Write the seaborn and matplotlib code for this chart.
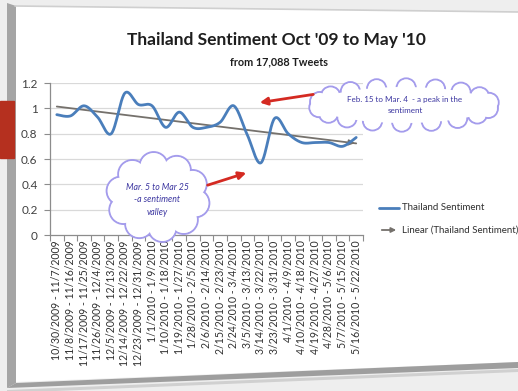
import numpy as np
import pandas as pd
import matplotlib
matplotlib.use("Agg")
import matplotlib.pyplot as plt
import seaborn as sns
from matplotlib.patches import Polygon, Circle, Ellipse, Rectangle

# Weekly (9-day) periods and the average tweet sentiment for each
periods = [
    "10/30/2009 - 11/7/2009", "11/8/2009 - 11/16/2009", "11/17/2009 - 11/25/2009",
    "11/26/2009 - 12/4/2009", "12/5/2009 - 12/13/2009", "12/14/2009 - 12/22/2009",
    "12/23/2009 - 12/31/2009", "1/1/2010 - 1/9/2010", "1/10/2010 - 1/18/2010",
    "1/19/2010 - 1/27/2010", "1/28/2010 - 2/5/2010", "2/6/2010 - 2/14/2010",
    "2/15/2010 - 2/23/2010", "2/24/2010 - 3/4/2010", "3/5/2010 - 3/13/2010",
    "3/14/2010 - 3/22/2010", "3/23/2010 - 3/31/2010", "4/1/2010 - 4/9/2010",
    "4/10/2010 - 4/18/2010", "4/19/2010 - 4/27/2010", "4/28/2010 - 5/6/2010",
    "5/7/2010 - 5/15/2010", "5/16/2010 - 5/22/2010",
]
sentiment = [0.95, 0.94, 1.02, 0.93, 0.80, 1.12, 1.03, 1.02, 0.85, 0.97, 0.85, 0.85,
             0.89, 1.02, 0.79, 0.57, 0.92, 0.80, 0.73, 0.73, 0.73, 0.70, 0.77]
y_ticks = [0, 0.2, 0.4, 0.6, 0.8, 1.0, 1.2]
y_tick_labels = ["0", "0.2", "0.4", "0.6", "0.8", "1", "1.2"]

title = "Thailand Sentiment Oct '09 to May '10"
subtitle = "from 17,088 Tweets"
series_name = "Thailand Sentiment"
trend_name = "Linear (Thailand Sentiment)"
note_peak = "Feb. 15 to Mar. 4  - a peak in the\nsentiment"
note_valley = "Mar. 5 to Mar 25\n-a sentiment\nvalley"

sns.set_theme(style="white")
plt.rcParams["font.family"] = ["Lato", "DejaVu Sans"]

BLUE = "#4a7ebb"
TREND = "#75716c"
GRID = "#d9d9d9"
AXIS = "#8c8c8c"
RED = "#d42a22"
CLOUD_EDGE = "#a49cec"
CLOUD_TEXT = "#3b35a0"


def smooth_curve(values, steps=24):
    """Bezier smoothing through every point (spreadsheet-style smoothed line)."""
    pts = np.column_stack([np.arange(len(values)), values]).astype(float)
    padded = np.vstack([pts[0], pts, pts[-1]])
    out = []
    for i in range(len(pts) - 1):
        p0, p1, p2, p3 = padded[i], padded[i + 1], padded[i + 2], padded[i + 3]
        c1 = p1 + (p2 - p0) / 6
        c2 = p2 - (p3 - p1) / 6
        t = np.linspace(0, 1, steps, endpoint=(i == len(pts) - 2))[:, None]
        out.append((1 - t) ** 3 * p1 + 3 * (1 - t) ** 2 * t * c1
                   + 3 * (1 - t) * t ** 2 * c2 + t ** 3 * p2)
    return np.vstack(out)


W, H = 518, 391
fig = plt.figure(figsize=(W / 100, H / 100), dpi=100)

# ---- slide backdrop (pixel coordinates) ----
bg = fig.add_axes([0, 0, 1, 1], zorder=0)
bg.set_xlim(0, W)
bg.set_ylim(H, 0)
bg.axis("off")
bg.add_patch(Rectangle((0, 0), W, H, color="#eeeeee"))
bg.add_patch(Polygon([(15, 6), (W, 12), (W, 362), (15, 382)], closed=True,
                     facecolor="white", edgecolor="none"))
bg.plot([15, W], [6, 12], color="#cfcfcf", lw=1.2)
bg.add_patch(Polygon([(7, 3), (16, 6), (16, 383), (7, 388)], closed=True,
                     facecolor="#a5a5a5", edgecolor="none"))
bg.add_patch(Polygon([(7, 388), (16, 383), (W, 362), (W, 368)], closed=True,
                     facecolor="#9e9e9e", edgecolor="none"))
bg.add_patch(Polygon([(7, 390), (W, 369), (W, 372), (7, 393)], closed=True,
                     facecolor="#d0d0d0", edgecolor="none"))
bg.add_patch(Rectangle((0, 101), 14, 57, color="#b5301f"))

# ---- chart ----
ax = fig.add_axes([50 / W, (H - 235) / H, 313 / W, 152 / H], zorder=1)
ax.set_facecolor("none")
idx = np.arange(len(sentiment))

curve = smooth_curve(sentiment)
curve_df = pd.DataFrame({"x": curve[:, 0], "y": curve[:, 1]})
sns.lineplot(data=curve_df, x="x", y="y", ax=ax, color=BLUE, lw=2.0,
             sort=False, estimator=None, zorder=3)

data_df = pd.DataFrame({"x": idx, "y": sentiment})
sns.regplot(data=data_df, x="x", y="y", ax=ax, scatter=False, ci=None,
            truncate=True, color=TREND, line_kws={"lw": 1.3, "zorder": 2})
slope, icpt = np.polyfit(idx, sentiment, 1)
x_end = idx[-1]
ax.annotate("", xy=(x_end + 0.1, slope * (x_end + 0.1) + icpt),
            xytext=(x_end - 0.5, slope * (x_end - 0.5) + icpt),
            arrowprops=dict(arrowstyle="-|>", color=TREND, lw=1.3,
                            mutation_scale=8), zorder=2)

ax.set_xlim(-0.5, len(sentiment) - 0.5)
ax.set_ylim(0, 1.2)
ax.set_yticks(y_ticks)
ax.set_yticklabels(y_tick_labels, fontsize=8.5, color="#404040")
ax.set_xticks(idx)
ax.set_xticklabels(periods, rotation=90, fontsize=7.6, color="#303030")
ax.set_xticks(np.arange(-0.5, len(sentiment)), minor=True)
ax.tick_params(axis="x", which="major", length=0, pad=4)
ax.tick_params(axis="x", which="minor", length=4, color=AXIS, width=0.8,
               direction="out", bottom=True)
ax.tick_params(axis="y", which="major", length=4, color=AXIS, width=0.8,
               direction="out", left=True, pad=5)
for y in y_ticks[1:]:
    ax.axhline(y, color=GRID, lw=0.9, zorder=0)
for side in ("top", "right"):
    ax.spines[side].set_visible(False)
for side in ("left", "bottom"):
    ax.spines[side].set_color(AXIS)
    ax.spines[side].set_linewidth(0.9)
ax.set_xlabel("")
ax.set_ylabel("")

# ---- titles, legend, callouts (pixel coordinates) ----
ov = fig.add_axes([0, 0, 1, 1], zorder=3)
ov.set_xlim(0, W)
ov.set_ylim(H, 0)
ov.axis("off")
ov.patch.set_alpha(0)

ov.text(276, 40, title, ha="center", va="center", fontsize=12.5,
        fontweight="bold", color="#1e1e1e")
ov.text(279, 62, subtitle, ha="center", va="center", fontsize=7.8,
        fontweight="bold", color="#1e1e1e")

ov.plot([379, 399], [208, 208], color=BLUE, lw=2)
ov.text(402, 208, series_name, ha="left", va="center", fontsize=7, color="#303030")
ov.annotate("", xy=(399, 230), xytext=(379, 230),
            arrowprops=dict(arrowstyle="-|>", color=TREND, lw=1.3, mutation_scale=7))
ov.text(402, 230, trend_name, ha="left", va="center", fontsize=7, color="#303030")


def cloud(cx, cy, a, b, r, n):
    ang = np.linspace(0, 2 * np.pi, n, endpoint=False) + 0.2
    centers = [(cx + a * np.cos(t), cy + b * np.sin(t)) for t in ang]
    for (x, y) in centers:
        ov.add_patch(Circle((x, y), r, facecolor="white", edgecolor=CLOUD_EDGE,
                            lw=1.6, zorder=4))
    for (x, y) in centers:
        ov.add_patch(Circle((x, y), r - 0.8, facecolor="white", edgecolor="none",
                            zorder=5))
    ov.add_patch(Ellipse((cx, cy), 2 * a + 2, 2 * b + 2, facecolor="white",
                         edgecolor="none", zorder=5))


cloud(404, 105, 86, 17, 9.5, 18)
ov.text(405, 105, note_peak, ha="center", va="center", fontsize=5.8,
        color=CLOUD_TEXT, linespacing=1.6, zorder=6)

cloud(158, 197, 38, 31, 14, 10)
ov.text(157, 200, note_valley, ha="center", va="center", fontsize=6.3,
        style="italic", color=CLOUD_TEXT, linespacing=1.5, zorder=6)

ov.annotate("", xy=(257, 103), xytext=(316, 94),
            arrowprops=dict(arrowstyle="-|>", color=RED, lw=2, mutation_scale=11),
            zorder=7)
ov.annotate("", xy=(249, 172), xytext=(205, 186),
            arrowprops=dict(arrowstyle="-|>", color=RED, lw=2, mutation_scale=11),
            zorder=7)

fig.savefig("out.png", dpi=100)
